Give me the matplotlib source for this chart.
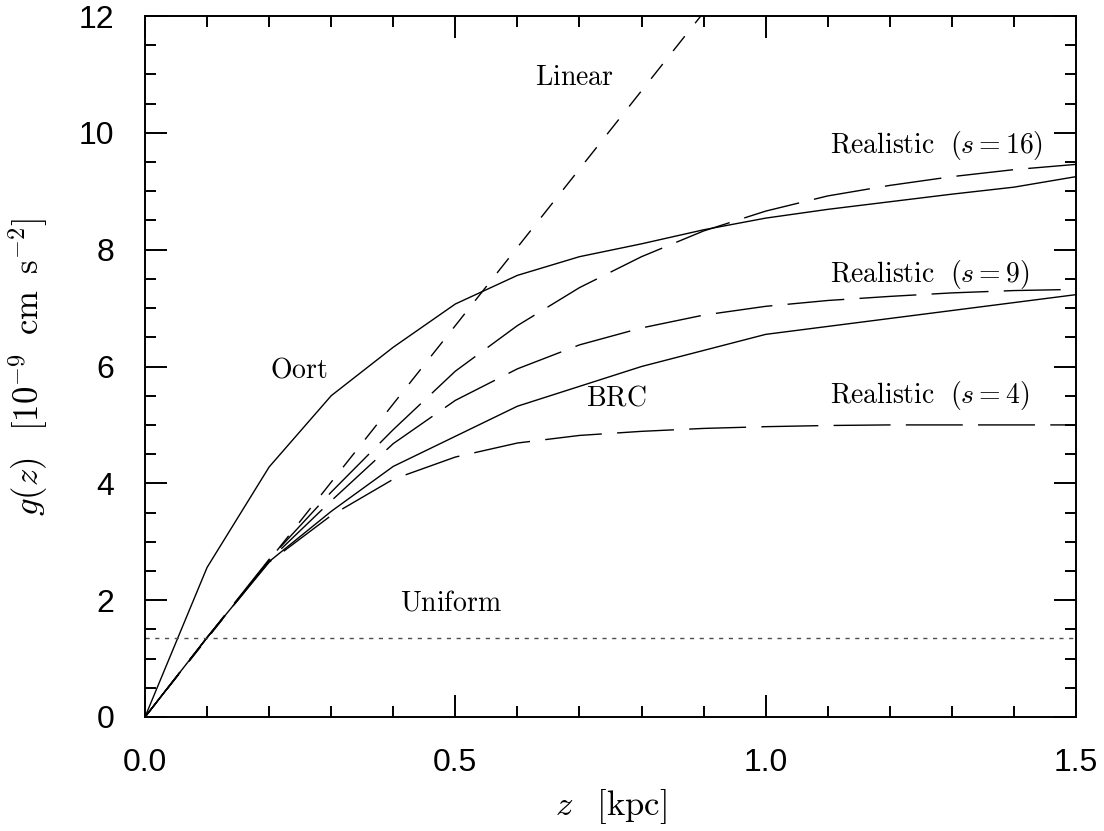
import matplotlib
matplotlib.use('Agg')
from matplotlib import pyplot as plt
from matplotlib.ticker import MultipleLocator, FormatStrFormatter

plt.rcParams['mathtext.fontset'] = 'cm'
plt.rcParams['font.family'] = ['Liberation Sans', 'DejaVu Sans']

# z grid (kpc) for the model curves
z_grid = [0.0, 0.1, 0.2, 0.3, 0.4, 0.5, 0.6, 0.7, 0.8, 0.9, 1.0, 1.1, 1.2, 1.3, 1.4, 1.5]
oort = [0.0, 2.56, 4.28, 5.50, 6.33, 7.07, 7.56, 7.88, 8.10, 8.34, 8.54, 8.69, 8.82, 8.95, 9.07, 9.25]
real_s16 = [0.0, 1.36, 2.70, 3.85, 4.92, 5.92, 6.70, 7.35, 7.88, 8.32, 8.66, 8.92, 9.10, 9.25, 9.37, 9.46]
real_s9 = [0.0, 1.36, 2.68, 3.70, 4.68, 5.42, 5.96, 6.37, 6.66, 6.88, 7.03, 7.13, 7.20, 7.26, 7.30, 7.32]
real_s4 = [0.0, 1.36, 2.65, 3.45, 4.07, 4.45, 4.69, 4.82, 4.89, 4.94, 4.97, 4.99, 5.00, 5.00, 5.00, 5.00]

brc_z = [0.0, 0.1, 0.2, 0.3, 0.4, 0.6, 0.8, 1.0, 1.5]
brc = [0.0, 1.36, 2.66, 3.52, 4.29, 5.32, 6.00, 6.55, 7.23]

lin_z = [0.0, 1.5]
linear = [0.0, 20.1]
uni_z = [0.0, 1.5]
uniform = [1.36, 1.36]

fig = plt.figure(figsize=(11.04, 8.31), dpi=100)
ax = fig.add_axes([145/1104, 1 - 717/831, 931/1104, 701/831])

lw = 1.0
ax.plot(z_grid, oort, color='k', lw=lw)
ax.plot(brc_z, brc, color='k', lw=lw)
for g in (real_s16, real_s9, real_s4):
    ax.plot(z_grid, g, color='k', lw=lw, dashes=(41, 11))
ax.plot(lin_z, linear, color='k', lw=lw, dashes=(13.5, 12))
ax.plot(uni_z, uniform, color='0.3', lw=lw, dashes=(3, 4))

# curve labels
tk = dict(fontsize=20, ha='left', va='baseline')
ax.text(0.628, 10.82, r'$\mathrm{Linear}$', **tk)
ax.text(1.1036, 9.66, r'$\mathrm{Realistic}\ \ (s=16)$', **tk)
ax.text(1.1036, 7.45, r'$\mathrm{Realistic}\ \ (s=9)$', **tk)
ax.text(1.1036, 5.38, r'$\mathrm{Realistic}\ \ (s=4)$', **tk)
ax.text(0.201, 5.81, r'$\mathrm{Oort}$', **tk)
ax.text(0.710, 5.33, r'$\mathrm{BRC}$', **tk)
ax.text(0.411, 1.83, r'$\mathrm{Uniform}$', **tk)

ax.set_xlim(0, 1.5)
ax.set_ylim(0, 12)
ax.xaxis.set_major_locator(MultipleLocator(0.5))
ax.xaxis.set_minor_locator(MultipleLocator(0.1))
ax.yaxis.set_major_locator(MultipleLocator(2))
ax.yaxis.set_minor_locator(MultipleLocator(0.5))
ax.xaxis.set_major_formatter(FormatStrFormatter('%.1f'))
ax.yaxis.set_major_formatter(FormatStrFormatter('%d'))
ax.tick_params(which='both', direction='in', top=True, right=True, width=1.4)
ax.tick_params(which='major', length=16, labelsize=23, pad=22)
ax.tick_params(which='minor', length=8)
for s in ax.spines.values():
    s.set_linewidth(1.4)

ax.set_xlabel(r'$z\;\;\;[\mathrm{kpc}]$', fontsize=25)
ax.set_ylabel(r'$g(z)\;\;\;[10^{-9}\;\;\mathrm{cm}\;\;\mathrm{s}^{-2}]$', fontsize=25)
ax.xaxis.set_label_coords(0.5, -0.100)
ax.yaxis.set_label_coords(-0.102, 0.5)

fig.savefig('out.png', dpi=100)
plt.close(fig)
